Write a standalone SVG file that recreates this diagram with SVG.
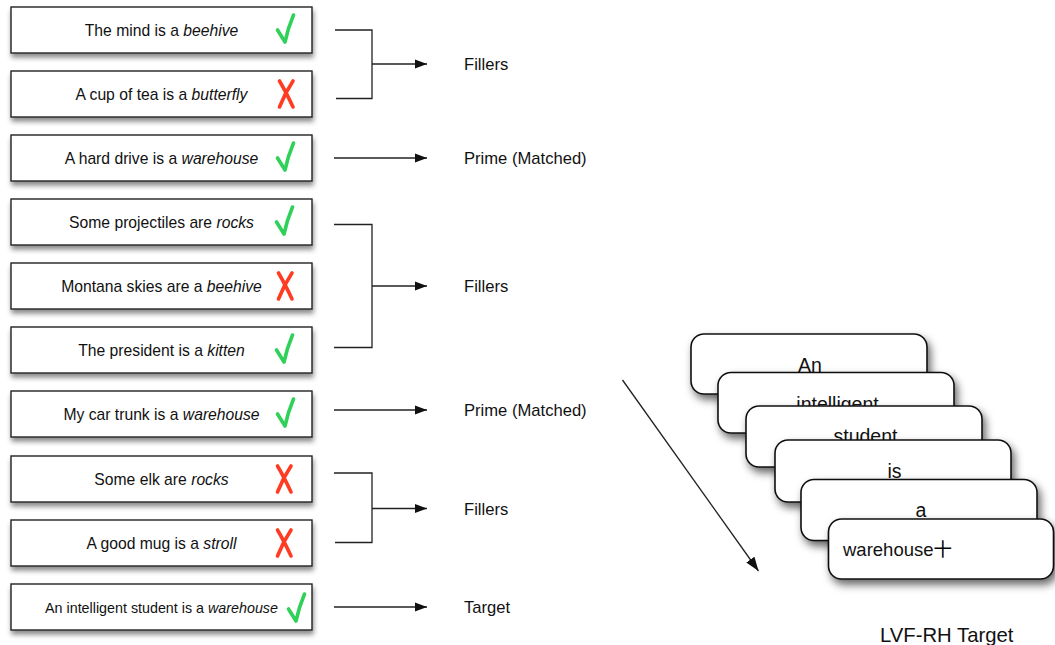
<svg xmlns="http://www.w3.org/2000/svg" width="1055" height="645" viewBox="0 0 1055 645">
<defs>
<filter id="sh" x="-10%" y="-20%" width="130%" height="160%">
<feDropShadow dx="1" dy="4" stdDeviation="2.5" flood-color="#000" flood-opacity="0.45"/>
</filter>
<filter id="shc" x="-10%" y="-20%" width="130%" height="160%">
<feDropShadow dx="3" dy="5" stdDeviation="4" flood-color="#000" flood-opacity="0.6"/>
</filter>
<marker id="ah" viewBox="0 0 12 10" refX="12" refY="5" markerWidth="12" markerHeight="10" markerUnits="userSpaceOnUse" orient="auto">
<path d="M0,0.5 L12,5 L0,9.5 z" fill="#111"/>
</marker>
<marker id="ah2" viewBox="0 0 14 10" refX="14" refY="5" markerWidth="14" markerHeight="10" markerUnits="userSpaceOnUse" orient="auto">
<path d="M0,0 L14,5 L0,10 z" fill="#111"/>
</marker>
</defs>
<style>
.box{fill:#fff;stroke:#222;stroke-width:1.4;filter:url(#sh)}
.card{fill:#fff;stroke:#111;stroke-width:1.6;filter:url(#shc)}
.t{font-family:"Liberation Sans",Arial,sans-serif;font-size:15.7px;fill:#111;text-anchor:middle}
.lab{font-family:"Liberation Sans",Arial,sans-serif;font-size:16.6px;fill:#111}
.ct{font-family:"Liberation Sans",Arial,sans-serif;font-size:19.5px;fill:#111;text-anchor:middle}
.i{font-style:italic}
.ok{fill:none;stroke:#2fd158;stroke-width:3.6;stroke-linecap:round;stroke-linejoin:round}
.no{fill:none;stroke:#ff3b22;stroke-width:3.6;stroke-linecap:round}
.ln{fill:none;stroke:#222;stroke-width:1.3}
</style>

<g id="s1"><rect class="box" x="11" y="7" width="301" height="46"/><text class="t" x="161.5" y="35.5">The mind is a <tspan class="i">beehive</tspan></text><path class="ok" d="M277.5,30 L285,42 Q288,28 293.5,15"/></g>
<g id="s2"><rect class="box" x="11" y="71" width="301" height="46"/><text class="t" x="161.5" y="99.5">A cup of tea is a <tspan class="i">butterfly</tspan></text><path class="no" d="M279.5,81 Q286,92 293,107 M293,81 Q285,93 279.5,107"/></g>
<g id="s3"><rect class="box" x="11" y="135" width="301" height="46"/><text class="t" x="161.5" y="163.5">A hard drive is a <tspan class="i">warehouse</tspan></text><path class="ok" d="M277.5,158 L285,170 Q288,156 293.5,143"/></g>
<g id="s4"><rect class="box" x="11" y="199" width="301" height="46"/><text class="t" x="161.5" y="227.5">Some projectiles are <tspan class="i">rocks</tspan></text><path class="ok" d="M276.5,222 L284,234 Q287,220 292.5,207"/></g>
<g id="s5"><rect class="box" x="11" y="263" width="301" height="46"/><text class="t" x="161.5" y="291.5">Montana skies are a <tspan class="i">beehive</tspan></text><path class="no" d="M278.5,273 Q285,284 292,299 M292,273 Q284,285 278.5,299"/></g>
<g id="s6"><rect class="box" x="11" y="327" width="301" height="46"/><text class="t" x="161.5" y="355.5">The president is a <tspan class="i">kitten</tspan></text><path class="ok" d="M276.5,350 L284,362 Q287,348 292.5,335"/></g>
<g id="s7"><rect class="box" x="11" y="391" width="301" height="46"/><text class="t" x="161.5" y="420">My car trunk is a <tspan class="i">warehouse</tspan></text><path class="ok" d="M277.5,414 L285,426 Q288,412 293.5,399"/></g>
<g id="s8"><rect class="box" x="11" y="456" width="301" height="46"/><text class="t" x="161.5" y="484.5">Some elk are <tspan class="i">rocks</tspan></text><path class="no" d="M277.5,466 Q284,477 291,492 M291,466 Q283,478 277.5,492"/></g>
<g id="s9"><rect class="box" x="11" y="520" width="301" height="46"/><text class="t" x="161.5" y="548.5">A good mug is a <tspan class="i">stroll</tspan></text><path class="no" d="M277.5,530 Q284,541 291,556 M291,530 Q283,542 277.5,556"/></g>
<g id="s10"><rect class="box" x="11" y="584" width="301" height="46"/><text class="t" x="161.5" y="612.5" style="font-size:14.3px">An intelligent student is a <tspan class="i">warehouse</tspan></text><path class="ok" d="M288.5,609 L296,621 Q299,607 304.5,594"/></g>

<g id="connectors">
<path class="ln" d="M335,30 H372 V98.5 H336"/>
<path class="ln" d="M372,64 H427" marker-end="url(#ah)"/>
<path class="ln" d="M334,158 H427" marker-end="url(#ah)"/>
<path class="ln" d="M334,224.5 H372 V347.5 H334"/>
<path class="ln" d="M372,286 H427" marker-end="url(#ah)"/>
<path class="ln" d="M334,410 H427" marker-end="url(#ah)"/>
<path class="ln" d="M334,473 H372 V542.5 H335"/>
<path class="ln" d="M372,508.5 H427" marker-end="url(#ah)"/>
<path class="ln" d="M334,607 H427" marker-end="url(#ah)"/>
<path class="ln" d="M622.5,380 L758.5,571" marker-end="url(#ah2)"/>
</g>

<g id="labels">
<text class="lab" x="464" y="70">Fillers</text>
<text class="lab" x="464" y="164">Prime (Matched)</text>
<text class="lab" x="464" y="292">Fillers</text>
<text class="lab" x="464" y="416">Prime (Matched)</text>
<text class="lab" x="464" y="514.5">Fillers</text>
<text class="lab" x="464" y="613">Target</text>
</g>

<g id="c1"><rect class="card" x="691" y="334" width="236" height="60" rx="13"/><text class="ct" x="810" y="371.5">An</text></g>
<g id="c2"><rect class="card" x="718" y="372.5" width="236" height="60.5" rx="13"/><text class="ct" x="837.5" y="410.5">intelligent</text></g>
<g id="c3"><rect class="card" x="746" y="406" width="236" height="61" rx="13"/><text class="ct" x="865.5" y="443">student</text></g>
<g id="c4"><rect class="card" x="775" y="440" width="236" height="62" rx="13"/><text class="ct" x="894.5" y="478">is</text></g>
<g id="c5"><rect class="card" x="801" y="479.5" width="236" height="61" rx="13"/><text class="ct" x="921" y="517">a</text></g>
<g id="c6"><rect class="card" x="828.5" y="519" width="225" height="60" rx="13"/><text class="ct" x="843" y="556" style="text-anchor:start;font-size:18.5px">warehouse<tspan style="font-family:'Noto Sans CJK SC',sans-serif;font-weight:400;fill:#000">十</tspan></text></g>

<text id="lvf" x="880" y="642" style="font-family:'Liberation Sans',Arial,sans-serif;font-size:20.3px;fill:#111">LVF-RH Target</text>
</svg>
